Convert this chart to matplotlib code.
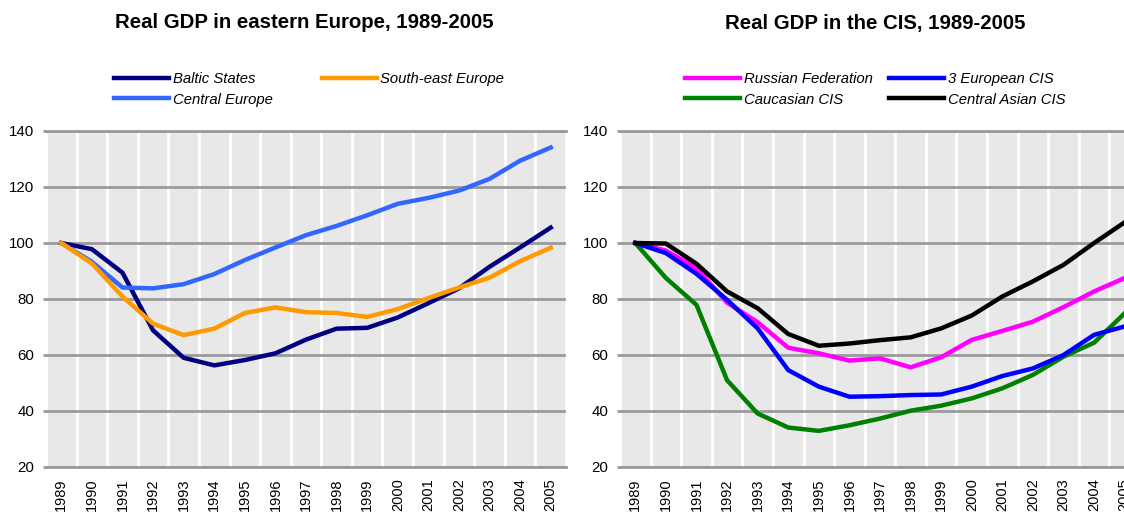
import matplotlib
matplotlib.use('Agg')
import matplotlib.pyplot as plt

plt.rcParams['font.family'] = ['Liberation Sans', 'DejaVu Sans']

# Años (categorias del eje x)
years = ['1989', '1990', '1991', '1992', '1993', '1994', '1995', '1996', '1997',
         '1998', '1999', '2000', '2001', '2002', '2003', '2004', '2005']

# Europa del este
baltic = [100, 97.8, 89.4, 68.8, 59.0, 56.3, 58.2, 60.6, 65.5, 69.4, 69.7, 73.4, 78.5, 83.8, 91.5, 98.4, 105.5]
south_east = [100, 92.7, 80.9, 71.2, 67.1, 69.4, 75.0, 77.0, 75.3, 75.0, 73.6, 76.4, 80.3, 84.1, 87.6, 93.5, 98.3]
central = [100, 93.3, 84.1, 83.8, 85.3, 88.9, 93.9, 98.4, 102.8, 106.1, 109.9, 114.0, 116.1, 118.7, 122.9, 129.4, 134.1]

# CIS
russia = [100, 97.3, 91.0, 78.7, 71.7, 62.6, 60.6, 58.0, 58.8, 55.6, 59.2, 65.4, 68.6, 71.9, 77.1, 82.7, 87.5]
eur_cis = [100, 96.4, 89.0, 79.7, 69.5, 54.6, 48.7, 45.1, 45.3, 45.7, 45.9, 48.7, 52.5, 55.2, 60.0, 67.2, 70.2]
caucasian = [100, 87.5, 77.9, 51.0, 39.1, 34.1, 32.9, 34.9, 37.3, 40.1, 41.9, 44.5, 48.1, 52.9, 59.4, 64.4, 74.9]
central_asia = [100, 99.8, 92.6, 82.7, 76.7, 67.5, 63.3, 64.1, 65.3, 66.3, 69.5, 74.1, 80.9, 86.3, 92.2, 100.0, 107.4]

W, H = 1124, 512
fig = plt.figure(figsize=(W/100, H/100), dpi=100)
ax1 = fig.add_axes([46/W, 45/H, 520/W, 336/H])
ax2 = fig.add_axes([620/W, 45/H, 520/W, 336/H])


def formato(ax):
    ax.set_facecolor('#E8E8E8')
    ax.set_ylim(20, 140)
    ax.set_xlim(-0.5, len(years) - 0.5)
    ax.set_yticks([20, 40, 60, 80, 100, 120, 140])
    ax.set_xticks(range(len(years)))
    ax.set_xticklabels(years, rotation=90)
    ax.set_xticks([i - 0.5 for i in range(len(years) + 1)], minor=True)
    ax.set_axisbelow(True)
    ax.yaxis.grid(True, color='#9A9A9A', lw=2)
    ax.xaxis.grid(True, which='minor', color='white', lw=2)
    for s in ['left', 'right']:
        ax.spines[s].set_visible(False)
    for s in ['top', 'bottom']:
        ax.spines[s].set_color('#9A9A9A')
        ax.spines[s].set_linewidth(2)
    ax.tick_params(axis='y', length=2, width=2, color='#9A9A9A', pad=6.5, labelsize=10.8)
    ax.tick_params(axis='x', which='both', length=0, pad=8, labelsize=10.5)


formato(ax1)
formato(ax2)

lw = 3.2
ax1.plot(years, baltic, color='#000080', lw=lw, label='Baltic States')
ax1.plot(years, central, color='#3366FF', lw=lw, label='Central Europe')
ax1.plot(years, south_east, color='#FF9900', lw=lw, label='South-east Europe')

ax2.plot(years, russia, color='#FF00FF', lw=lw, label='Russian Federation')
ax2.plot(years, caucasian, color='#008000', lw=lw, label='Caucasian CIS')
ax2.plot(years, eur_cis, color='#0000FF', lw=lw, label='3 European CIS')
ax2.plot(years, central_asia, color='#000000', lw=lw, label='Central Asian CIS')

# Titulos
fig.text(304/W, 1 - 23/H, 'Real GDP in eastern Europe, 1989-2005', ha='center', va='center',
         fontsize=14.7, fontweight='bold')
fig.text(875/W, 1 - 23/H, 'Real GDP in the CIS, 1989-2005', ha='center', va='center',
         fontsize=14.7, fontweight='bold')

# Leyendas
leg_props = dict(ncol=2, frameon=False, loc='upper left', borderpad=0, borderaxespad=0,
                 handlelength=3.7, handletextpad=0.25, labelspacing=0.45,
                 prop={'style': 'italic', 'size': 10.7})
h, l = ax1.get_legend_handles_labels()
fig.legend(h, l, bbox_to_anchor=(114/W, 1 - 72/H), columnspacing=3.3, **leg_props)
h, l = ax2.get_legend_handles_labels()
fig.legend(h, l, bbox_to_anchor=(685/W, 1 - 72/H), columnspacing=1.1, **leg_props)

fig.savefig('out.png', dpi=100)
